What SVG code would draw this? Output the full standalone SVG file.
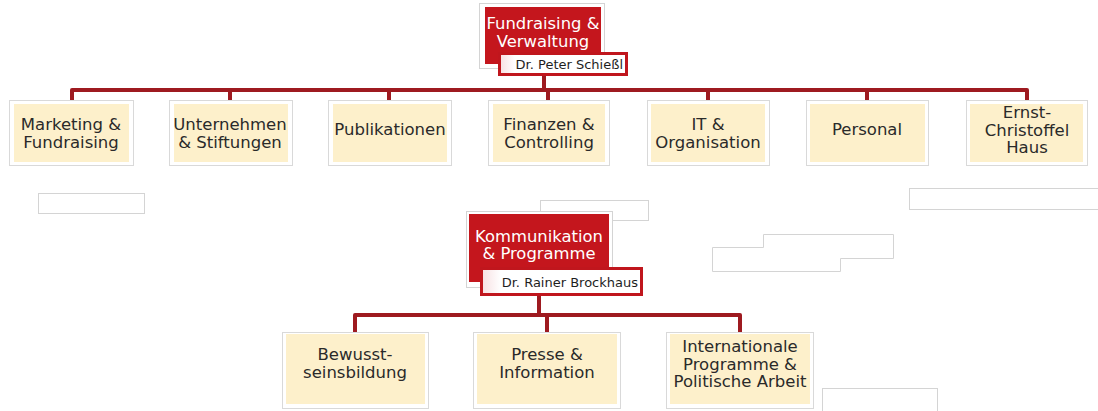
<svg xmlns="http://www.w3.org/2000/svg" width="1098" height="411" viewBox="0 0 1098 411">
  <style>
    .frame { fill: #ffffff; stroke: #d4d4d4; stroke-width: 1; }
    .head { fill: #c4161d; }
    .tag { fill: url(#tagFill); stroke: #c0161d; stroke-width: 3; }
    .unit { fill: #ffffff; stroke: #d9d9d9; stroke-width: 1; }
    .unitFill { fill: #fdf0cb; }
    .headText { font-family: "DejaVu Sans", Verdana, sans-serif; font-size: 16.4px; fill: #ffffff; text-anchor: middle; }
    .tagText { font-family: "DejaVu Sans", Verdana, sans-serif; font-size: 13px; fill: #1e1e1e; text-anchor: end; }
    .unitText { font-family: "DejaVu Sans", Verdana, sans-serif; font-size: 16.5px; fill: #2a2a2a; text-anchor: middle; }
    .link { fill: none; stroke: #9e1a20; stroke-width: 4; stroke-linejoin: round; stroke-linecap: butt; }
  </style>
  <defs>
    <linearGradient id="tagFill" x1="0" y1="0" x2="1" y2="0">
      <stop offset="0" stop-color="#f7dfe1"/>
      <stop offset="0.12" stop-color="#ffffff"/>
      <stop offset="1" stop-color="#ffffff"/>
    </linearGradient>
  </defs>

  <rect width="1098" height="411" fill="#ffffff"/>

  <!-- empty placeholder frames -->
  <g id="blank-frames">
    <rect class="frame" x="38.5" y="193.5" width="106" height="20"/>
    <rect class="frame" x="540.5" y="200.5" width="108" height="20"/>
    <rect class="frame" x="909.5" y="188.5" width="195" height="21"/>
    <path class="frame" d="M763.5 234.5 H893.5 V258.5 H840.5 V271.5 H712.5 V247.5 H763.5 Z"/>
    <rect class="frame" x="822.5" y="388.5" width="115" height="30"/>
  </g>

  <!-- connectors -->
  <g id="connectors">
    <path class="link" d="M544 76 V90"/>
    <path class="link" d="M72 100 V90 H1027 V100"/>
    <path class="link" d="M230 90 V100 M389 90 V100 M548 90 V100 M708 90 V100 M867 90 V100"/>
    <path class="link" d="M539 296 V315"/>
    <path class="link" d="M355 332 V315 H740 V332"/>
    <path class="link" d="M547 315 V332"/>
  </g>

  <!-- head: Fundraising & Verwaltung -->
  <g id="fundraising-verwaltung">
    <rect class="frame" x="479.5" y="3.5" width="125" height="65"/>
    <rect class="head" x="485" y="7" width="116" height="57"/>
    <text class="headText" x="543" y="29">Fundraising &amp;</text>
    <text class="headText" x="543" y="47">Verwaltung</text>
    <rect class="tag" x="499.5" y="53.5" width="127" height="21"/>
    <text class="tagText" x="623" y="69">Dr. Peter Schießl</text>
  </g>

  <!-- top row units -->
  <g id="marketing-fundraising">
    <rect class="unit" x="9.5" y="100.5" width="124" height="65"/>
    <rect class="unitFill" x="14" y="104" width="115" height="58"/>
    <text class="unitText" x="71" y="130">Marketing &amp;</text>
    <text class="unitText" x="71" y="148">Fundraising</text>
  </g>
  <g id="unternehmen-stiftungen">
    <rect class="unit" x="169.5" y="100.5" width="123" height="65"/>
    <rect class="unitFill" x="174" y="104" width="114" height="58"/>
    <text class="unitText" x="230" y="130">Unternehmen</text>
    <text class="unitText" x="230" y="148">&amp; Stiftungen</text>
  </g>
  <g id="publikationen">
    <rect class="unit" x="328.5" y="100.5" width="123" height="65"/>
    <rect class="unitFill" x="333" y="104" width="114" height="58"/>
    <text class="unitText" x="390" y="135">Publikationen</text>
  </g>
  <g id="finanzen-controlling">
    <rect class="unit" x="488.5" y="100.5" width="121" height="65"/>
    <rect class="unitFill" x="493" y="104" width="112" height="58"/>
    <text class="unitText" x="549" y="130">Finanzen &amp;</text>
    <text class="unitText" x="549" y="148">Controlling</text>
  </g>
  <g id="it-organisation">
    <rect class="unit" x="647.5" y="100.5" width="122" height="65"/>
    <rect class="unitFill" x="651" y="104" width="114" height="58"/>
    <text class="unitText" x="708" y="130">IT &amp;</text>
    <text class="unitText" x="708" y="148">Organisation</text>
  </g>
  <g id="personal">
    <rect class="unit" x="806.5" y="100.5" width="122" height="65"/>
    <rect class="unitFill" x="810" y="104" width="115" height="58"/>
    <text class="unitText" x="867" y="135">Personal</text>
  </g>
  <g id="ernst-christoffel-haus">
    <rect class="unit" x="966.5" y="100.5" width="121" height="65"/>
    <rect class="unitFill" x="970" y="104" width="113" height="58"/>
    <text class="unitText" x="1027" y="118">Ernst-</text>
    <text class="unitText" x="1027" y="135.5">Christoffel</text>
    <text class="unitText" x="1027" y="153">Haus</text>
  </g>

  <!-- head: Kommunikation & Programme -->
  <g id="kommunikation-programme">
    <rect class="frame" x="466.5" y="211.5" width="146" height="76"/>
    <rect class="head" x="469" y="214" width="140" height="68"/>
    <text class="headText" x="539" y="242">Kommunikation</text>
    <text class="headText" x="539" y="259">&amp; Programme</text>
    <rect class="tag" x="481.5" y="268.5" width="160" height="26"/>
    <text class="tagText" x="638" y="287">Dr. Rainer Brockhaus</text>
  </g>

  <!-- bottom row units -->
  <g id="bewusstseinsbildung">
    <rect class="unit" x="282.5" y="332.5" width="146" height="76"/>
    <rect class="unitFill" x="286" y="334" width="139" height="70"/>
    <text class="unitText" x="355" y="360">Bewusst-</text>
    <text class="unitText" x="355" y="378">seinsbildung</text>
  </g>
  <g id="presse-information">
    <rect class="unit" x="473.5" y="332.5" width="147" height="76"/>
    <rect class="unitFill" x="477" y="334" width="140" height="70"/>
    <text class="unitText" x="547" y="360">Presse &amp;</text>
    <text class="unitText" x="547" y="378">Information</text>
  </g>
  <g id="internationale-programme">
    <rect class="unit" x="666.5" y="332.5" width="147" height="76"/>
    <rect class="unitFill" x="670" y="334" width="140" height="70"/>
    <text class="unitText" x="740" y="352">Internationale</text>
    <text class="unitText" x="740" y="369.5">Programme &amp;</text>
    <text class="unitText" x="740" y="387">Politische Arbeit</text>
  </g>
</svg>
